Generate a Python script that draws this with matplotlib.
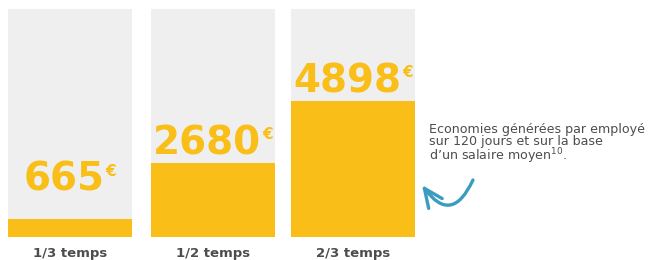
import matplotlib.pyplot as plt
from matplotlib.patches import FancyArrowPatch

categories = ["1/3 temps", "1/2 temps", "2/3 temps"]
savings = [665, 2680, 4898]
labels = ["665", "2680", "4898"]
background_max = 8230
label_floor = 1350  # small values keep their label a bit higher

yellow = "#F9BE17"
grey_bg = "#EFEFEF"
text_grey = "#4D4D4D"
teal = "#3A9DC0"

fig = plt.figure(figsize=(6.58, 2.60), dpi=100)
ax = fig.add_axes([0, 0, 1, 1])
ax.set_xlim(-0.495, 4.155)
ax.set_ylim(-830, 8556)
ax.axis("off")

x = [0, 1.01, 2.0]
width = 0.876

ax.bar(x, [background_max] * 3, width=width, color=grey_bg, zorder=1)
ax.bar(x, savings, width=width, color=yellow, zorder=2)

for xi, val, lab in zip(x, savings, labels):
    t = ax.annotate(lab, (xi, max(val, label_floor)), xytext=(-4, 0.5), textcoords="offset points",
                    ha="center", va="bottom", fontsize=28, fontweight="heavy",
                    color=yellow, zorder=3)
    fig.canvas.draw()
    bb = t.get_window_extent()
    ax.annotate("€", (bb.x1, bb.y1), xycoords="figure pixels", xytext=(0.5, -2),
                textcoords="offset points", ha="left", va="top", fontsize=11,
                fontweight="bold", color=yellow, zorder=3)

for xi, cat in zip(x, categories):
    ax.annotate(cat, (xi, 0), xytext=(0, -7), textcoords="offset points",
                ha="center", va="top", fontsize=9.5, fontweight="bold", color=text_grey)

ax.text(0.652, 0.525,
        "Economies générées par employé\nsur 120 jours et sur la base\nd’un salaire moyen$^{10}$.",
        transform=fig.transFigure, ha="left", va="top", fontsize=9.1,
        color=text_grey, linespacing=0.86)

# curved hand-drawn style arrow pointing back at the last bar
arrow = FancyArrowPatch((0.7188, 0.3077), (0.6413, 0.2885), transform=fig.transFigure,
                        connectionstyle="arc3,rad=-0.85", arrowstyle="->,head_length=9,head_width=4",
                        color=teal, lw=2.4, mutation_scale=1.5, shrinkA=0, shrinkB=0,
                        capstyle="round", joinstyle="round")
fig.patches.append(arrow)

fig.savefig("out.png", dpi=100, facecolor="white")
